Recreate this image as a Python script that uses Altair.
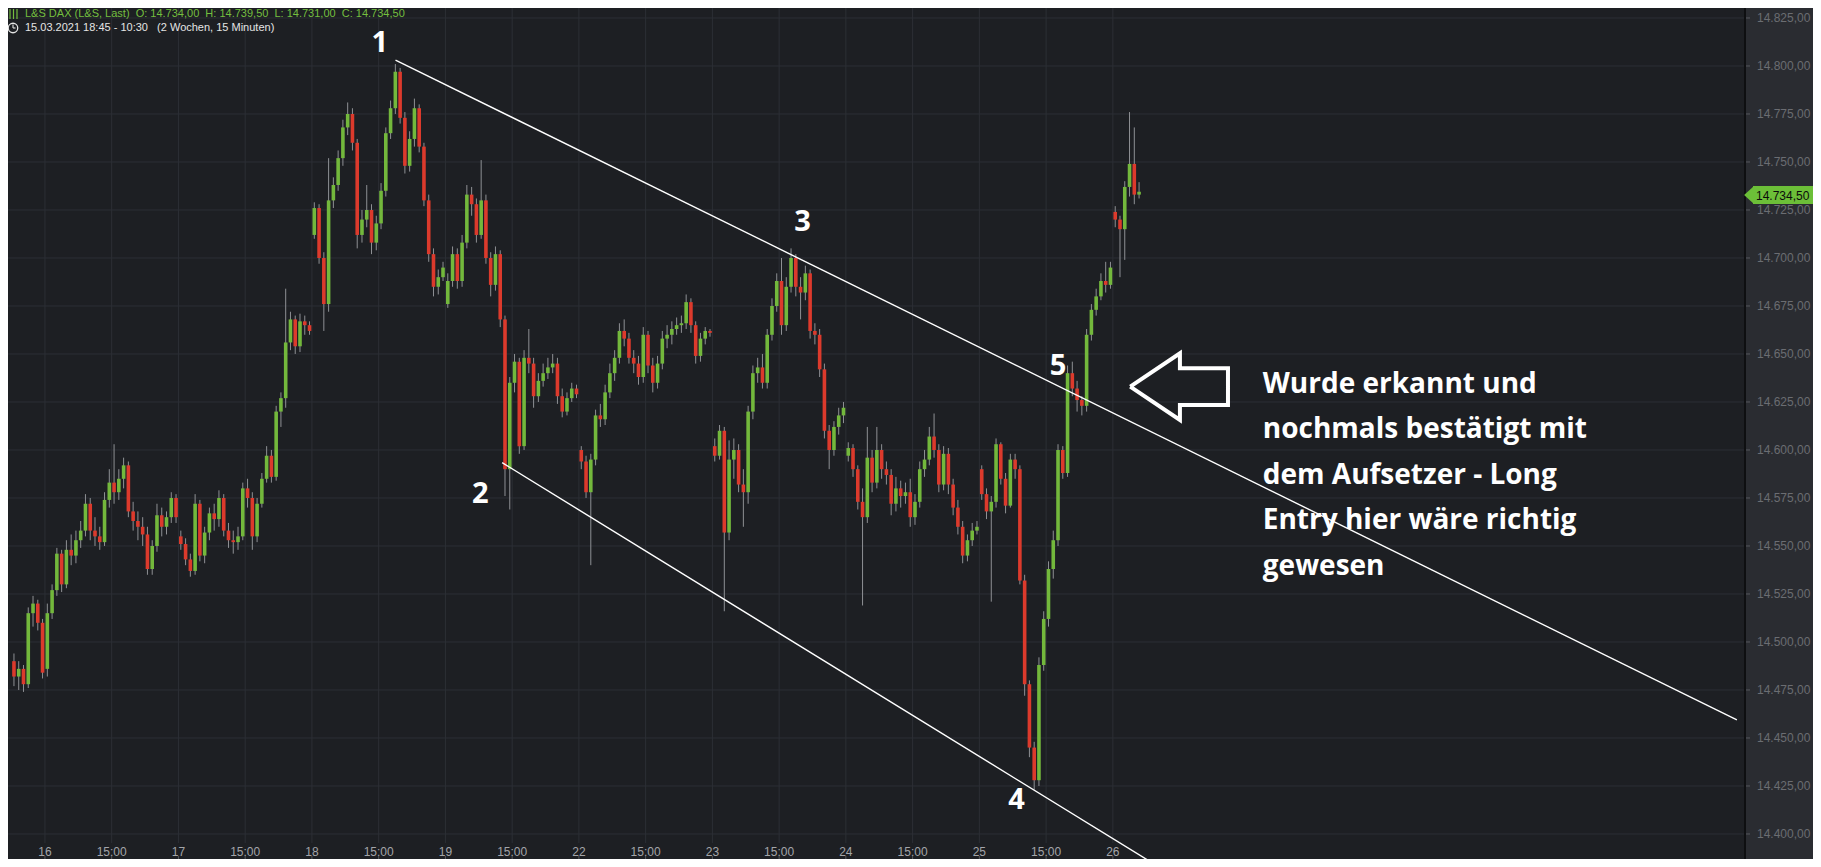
import altair as alt
import pandas as pd

# ---------------- candle data: half-hour OHLC bars, one set of lists per trading day -------------
OPEN_15 = 14490
CLOSE_15 = [14482, 14486, 14478, 14515, 14520, 14510, 14484]
HIGH_15 = [14494, 14490, 14488, 14518, 14524, 14522, 14512]
LOW_15 = [14477, 14475, 14474, 14476, 14508, 14506, 14481]

OPEN_16 = 14486
CLOSE_16 = [14515, 14527, 14546, 14530, 14548, 14545, 14553, 14558, 14572, 14558, 14555, 14552, 14574, 14583,
            14578, 14585, 14592, 14568, 14563, 14560, 14556, 14538, 14550, 14566, 14560, 14565, 14575, 14565]
HIGH_16 = [14520, 14530, 14549, 14548, 14553, 14556, 14558, 14563, 14577, 14575, 14565, 14560, 14578, 14590,
           14603, 14590, 14596, 14594, 14573, 14568, 14565, 14560, 14553, 14572, 14570, 14568, 14578, 14577]
LOW_16 = [14482, 14512, 14524, 14526, 14528, 14540, 14541, 14549, 14555, 14553, 14550, 14548, 14550, 14570,
          14572, 14574, 14580, 14565, 14558, 14553, 14550, 14535, 14535, 14547, 14555, 14556, 14562, 14562]

OPEN_17 = 14555
CLOSE_17 = [14551, 14543, 14537, 14572, 14545, 14557, 14567, 14564, 14575, 14558, 14553, 14552, 14555, 14580,
            14575, 14555, 14572, 14585, 14597, 14586, 14620, 14627, 14656, 14668, 14654, 14667, 14665, 14662]
HIGH_17 = [14558, 14554, 14546, 14577, 14574, 14560, 14570, 14572, 14579, 14577, 14562, 14558, 14560, 14583,
           14585, 14578, 14575, 14588, 14602, 14600, 14623, 14630, 14684, 14672, 14670, 14671, 14670, 14667]
LOW_17 = [14548, 14540, 14534, 14535, 14542, 14541, 14553, 14558, 14560, 14555, 14549, 14546, 14548, 14553,
          14570, 14548, 14552, 14570, 14583, 14583, 14584, 14612, 14622, 14652, 14650, 14651, 14660, 14660]

OPEN_18 = 14712
CLOSE_18 = [14726, 14700, 14676, 14730, 14738, 14752, 14768, 14775, 14760, 14712, 14720, 14725, 14708, 14718,
            14735, 14765, 14778, 14797, 14773, 14748, 14762, 14778, 14758, 14730, 14702, 14685, 14690, 14695]
HIGH_18 = [14729, 14728, 14703, 14752, 14742, 14756, 14772, 14781, 14778, 14762, 14725, 14738, 14728, 14722,
           14739, 14768, 14782, 14801, 14799, 14776, 14766, 14783, 14780, 14760, 14733, 14705, 14694, 14698]
LOW_18 = [14710, 14697, 14662, 14672, 14726, 14735, 14748, 14764, 14756, 14705, 14708, 14716, 14702, 14704,
          14715, 14732, 14762, 14775, 14770, 14744, 14745, 14758, 14755, 14727, 14698, 14680, 14681, 14688]

OPEN_19 = 14676
CLOSE_19 = [14688, 14702, 14688, 14708, 14733, 14728, 14712, 14730, 14700, 14686, 14702, 14668, 14590, 14635,
            14646, 14602, 14648, 14645, 14628, 14636, 14640, 14643, 14645, 14628, 14620, 14627, 14632, 14629]
HIGH_19 = [14692, 14706, 14705, 14712, 14738, 14737, 14731, 14751, 14733, 14703, 14706, 14704, 14670, 14638,
           14650, 14648, 14652, 14663, 14648, 14640, 14645, 14648, 14650, 14648, 14632, 14630, 14635, 14634]
LOW_19 = [14674, 14685, 14684, 14685, 14705, 14722, 14708, 14710, 14697, 14680, 14683, 14664, 14576, 14569,
          14630, 14598, 14600, 14640, 14622, 14625, 14633, 14637, 14640, 14624, 14617, 14618, 14625, 14627]

OPEN_22 = 14600
CLOSE_22 = [14594, 14578, 14595, 14618, 14616, 14630, 14640, 14648, 14662, 14658, 14648, 14645, 14638, 14660,
            14644, 14635, 14645, 14658, 14660, 14663, 14665, 14666, 14677, 14665, 14649, 14658, 14662, 14661]
HIGH_22 = [14602, 14597, 14598, 14621, 14624, 14634, 14645, 14652, 14666, 14668, 14661, 14652, 14649, 14664,
           14662, 14648, 14649, 14662, 14665, 14667, 14669, 14670, 14681, 14679, 14667, 14661, 14664, 14663]
LOW_22 = [14590, 14575, 14540, 14592, 14612, 14613, 14627, 14636, 14645, 14654, 14645, 14640, 14634, 14635,
          14640, 14630, 14632, 14642, 14653, 14655, 14660, 14661, 14663, 14661, 14645, 14646, 14655, 14659]

OPEN_23 = 14602
CLOSE_23 = [14597, 14610, 14557, 14595, 14600, 14582, 14578, 14620, 14640, 14643, 14635, 14660, 14675, 14688,
            14665, 14685, 14700, 14685, 14682, 14692, 14662, 14660, 14642, 14610, 14600, 14612, 14618, 14622]
HIGH_23 = [14606, 14613, 14612, 14605, 14606, 14603, 14590, 14623, 14644, 14648, 14650, 14663, 14679, 14692,
           14700, 14690, 14705, 14702, 14690, 14696, 14694, 14666, 14663, 14645, 14613, 14615, 14622, 14625]
LOW_23 = [14594, 14595, 14516, 14553, 14585, 14578, 14560, 14572, 14616, 14635, 14632, 14632, 14657, 14672,
          14660, 14662, 14682, 14680, 14668, 14678, 14658, 14655, 14638, 14606, 14590, 14597, 14608, 14614]

OPEN_24 = 14597
CLOSE_24 = [14601, 14590, 14573, 14565, 14596, 14583, 14600, 14590, 14587, 14572, 14580, 14576, 14578, 14565,
            14573, 14590, 14595, 14607, 14600, 14582, 14598, 14582, 14570, 14560, 14545, 14553, 14558, 14560]
HIGH_24 = [14604, 14603, 14592, 14580, 14612, 14600, 14612, 14603, 14594, 14590, 14586, 14584, 14583, 14585,
           14577, 14594, 14600, 14612, 14619, 14603, 14602, 14601, 14585, 14574, 14563, 14556, 14562, 14563]
LOW_24 = [14594, 14586, 14569, 14519, 14562, 14578, 14580, 14585, 14582, 14566, 14568, 14570, 14572, 14560,
          14561, 14570, 14586, 14592, 14596, 14578, 14579, 14577, 14566, 14556, 14541, 14542, 14550, 14556]

OPEN_25 = 14590
CLOSE_25 = [14577, 14568, 14573, 14603, 14585, 14571, 14595, 14590, 14532, 14478, 14445, 14428, 14488, 14512,
            14538, 14553, 14600, 14588, 14640, 14632, 14626, 14623, 14660, 14673, 14680, 14688, 14686, 14695]
HIGH_25 = [14592, 14580, 14576, 14606, 14604, 14588, 14598, 14598, 14592, 14535, 14480, 14448, 14492, 14516,
           14542, 14558, 14603, 14602, 14644, 14646, 14636, 14628, 14663, 14676, 14684, 14692, 14698, 14698]
LOW_25 = [14574, 14564, 14521, 14570, 14582, 14567, 14570, 14585, 14530, 14472, 14440, 14423, 14425, 14485,
          14508, 14533, 14550, 14585, 14586, 14628, 14620, 14618, 14620, 14657, 14670, 14678, 14682, 14684]

OPEN_26 = 14724
CLOSE_26 = [14720, 14715, 14737, 14749, 14733, 14734.5]
HIGH_26 = [14727, 14722, 14740, 14776, 14768, 14739.5]
LOW_26 = [14716, 14690, 14699, 14732, 14728, 14731]

DAYS = [
    (OPEN_15, CLOSE_15, HIGH_15, LOW_15),
    (OPEN_16, CLOSE_16, HIGH_16, LOW_16),
    (OPEN_17, CLOSE_17, HIGH_17, LOW_17),
    (OPEN_18, CLOSE_18, HIGH_18, LOW_18),
    (OPEN_19, CLOSE_19, HIGH_19, LOW_19),
    (OPEN_22, CLOSE_22, HIGH_22, LOW_22),
    (OPEN_23, CLOSE_23, HIGH_23, LOW_23),
    (OPEN_24, CLOSE_24, HIGH_24, LOW_24),
    (OPEN_25, CLOSE_25, HIGH_25, LOW_25),
    (OPEN_26, CLOSE_26, HIGH_26, LOW_26),
]

# ---------------- axis ticks ----------------
Y_TICKS = [14400, 14425, 14450, 14475, 14500, 14525, 14550, 14575, 14600, 14625, 14650,
           14675, 14700, 14725, 14750, 14775, 14800, 14825]
X_TICK_POS = [7, 21, 35, 49, 63, 77, 91, 105, 119, 133, 147, 161, 175, 189, 203, 217, 231]
X_TICK_LABELS = ["16", "15:00", "17", "15:00", "18", "15:00", "19", "15:00", "22", "15:00",
                 "23", "15:00", "24", "15:00", "25", "15:00", "26"]

# ---------------- drawings (bar index, price) ----------------
TREND1_T = [80.53, 361.9]
TREND1_V = [14803.1, 14459.4]
TREND2_T = [102.9, 240.55]
TREND2_V = [14593.4, 14383.0]

ARROW_T = [234.65, 245.07, 245.07, 255.15, 255.15, 245.07, 245.07, 234.65]
ARROW_V = [14632.96, 14650.36, 14642.54, 14642.54, 14623.43, 14623.43, 14615.62, 14632.96]

POINT_LABELS = ["1", "2", "3", "4", "5"]
POINT_T = [77.26, 98.32, 165.9, 210.8, 219.5]
POINT_V = [14812.0, 14577.1, 14718.7, 14417.7, 14643.7]

NOTE_LINES = ["Wurde erkannt und", "nochmals bestätigt mit", "dem Aufsetzer - Long",
              "Entry hier wäre richtig", "gewesen"]
NOTE_T = 262.45
NOTE_V = [14633.9, 14610.2, 14586.5, 14562.8, 14539.1]

HEADER_1 = "L&S DAX (L&S, Last)\u00a0\u00a0O: 14.734,00\u00a0\u00a0H: 14.739,50\u00a0\u00a0L: 14.731,00\u00a0\u00a0C: 14.734,50"
HEADER_2 = "15.03.2021 18:45 - 10:30\u00a0\u00a0\u00a0(2 Wochen, 15 Minuten)"
LAST_PRICE = "14.734,50"

# ---------------- build tables ----------------
rows = []
i = 0
for first_open, closes, highs, lows in DAYS:
    prev = first_open
    for c, h, l in zip(closes, highs, lows):
        rows.append({"t": i + 0.5, "o": prev, "c": c, "h": h, "l": l,
                     "dir": "up" if c >= prev else "down"})
        prev = c
        i += 1
candles = pd.DataFrame(rows)

trend = pd.DataFrame({
    "t": TREND1_T + TREND2_T,
    "v": TREND1_V + TREND2_V,
    "line": ["a", "a", "b", "b"],
})
arrow = pd.DataFrame({"t": ARROW_T, "v": ARROW_V, "k": list(range(len(ARROW_T)))})
points = pd.DataFrame({"t": POINT_T, "v": POINT_V, "s": POINT_LABELS})
notes = pd.DataFrame({"t": [NOTE_T] * len(NOTE_LINES), "v": NOTE_V, "s": NOTE_LINES})
ylabels = pd.DataFrame({"v": Y_TICKS,
                        "s": [f"{v // 1000}.{v % 1000:03d},00" for v in Y_TICKS]})
xlabels = pd.DataFrame({"t": X_TICK_POS, "s": X_TICK_LABELS})

# ---------------- styling ----------------
BG = "#1d1f23"
PANEL = "#2a2c31"
GRID = "#2c2f35"
GREEN = "#73b83c"
RED = "#dc3a2c"
WICK = "#8e9094"
TAG = "#6cbf38"

PLOT_W, PLOT_H = 1737, 835
XS = alt.Scale(domain=[0.3, 362.55], nice=False, zero=False)
YS = alt.Scale(domain=[14395.3, 14830.2], nice=False, zero=False)


def X(field):
    return alt.X(field, scale=XS, axis=None)


def Y(field):
    return alt.Y(field, scale=YS, axis=None)


ONE = pd.DataFrame({"k": [0]})

hgrid = alt.Chart(pd.DataFrame({"v": Y_TICKS})).mark_rule(color=GRID, strokeWidth=1).encode(
    y=Y("v:Q"), x=alt.value(0), x2=alt.value(PLOT_W))
vgrid = alt.Chart(pd.DataFrame({"t": X_TICK_POS})).mark_rule(color=GRID, strokeWidth=1).encode(
    x=X("t:Q"), y=alt.value(0), y2=alt.value(PLOT_H))

wicks = alt.Chart(candles).mark_rule(color=WICK, strokeWidth=1).encode(
    x=X("t:Q"), y=Y("l:Q"), y2="h:Q")
bodies = alt.Chart(candles).mark_bar(size=3.6).encode(
    x=X("t:Q"), y=Y("o:Q"), y2="c:Q",
    color=alt.Color("dir:N", scale=alt.Scale(domain=["up", "down"], range=[GREEN, RED]), legend=None))

lines = alt.Chart(trend).mark_line(color="#ffffff", strokeWidth=1.4).encode(
    x=X("t:Q"), y=Y("v:Q"), detail="line:N")

arrow_mark = alt.Chart(arrow).mark_line(color="#ffffff", strokeWidth=4, strokeJoin="miter").encode(
    x=X("t:Q"), y=Y("v:Q"), order="k:Q")

point_text = alt.Chart(points).mark_text(font="Open Sans", fontSize=29, fontWeight="bold",
                                         color="#ffffff", align="center", baseline="middle").encode(
    x=X("t:Q"), y=Y("v:Q"), text="s:N")

note_text = alt.Chart(notes).mark_text(font="Open Sans", fontSize=28, fontWeight="bold",
                                       color="#ffffff", align="left", baseline="middle").encode(
    x=X("t:Q"), y=Y("v:Q"), text="s:N")

panel = alt.Chart(ONE).mark_rect(color=PANEL).encode(
    x=alt.value(PLOT_W), x2=alt.value(PLOT_W + 80), y=alt.value(0), y2=alt.value(PLOT_H + 30))
separator = alt.Chart(ONE).mark_rule(color="#0e0f11", strokeWidth=2).encode(
    x=alt.value(PLOT_W), y=alt.value(0), y2=alt.value(PLOT_H + 30))

# y axis (right) drawn as marks
ytick_marks = alt.Chart(ylabels).mark_rule(color="#55585d", strokeWidth=1).encode(
    y=Y("v:Q"), x=alt.value(PLOT_W + 1), x2=alt.value(PLOT_W + 5))
ytick_text = alt.Chart(ylabels).mark_text(color="#6b6d72", fontSize=12, font="Liberation Sans",
                                          align="left", baseline="middle").encode(
    y=Y("v:Q"), x=alt.value(PLOT_W + 12), text="s:N")

# x axis (bottom) drawn as marks
xtick_text = alt.Chart(xlabels).mark_text(color="#a3a5a9", fontSize=12, font="Liberation Sans",
                                          align="center", baseline="middle").encode(
    x=X("t:Q"), y=alt.value(PLOT_H + 9), text="s:N")
xtick_marks = alt.Chart(xlabels).mark_rule(color="#55585d", strokeWidth=1).encode(
    x=X("t:Q"), y=alt.value(PLOT_H + 13), y2=alt.value(PLOT_H + 16))

tag_rect = alt.Chart(ONE).mark_rect(color=TAG).encode(
    x=alt.value(1745), x2=alt.value(1805), y=alt.value(178), y2=alt.value(196))
tag_tip = alt.Chart(ONE).mark_point(shape="M 0 -1 L -1.1 0 L 0 1 Z", filled=True, color=TAG,
                                    size=324, opacity=1).encode(x=alt.value(1746), y=alt.value(187))
tag_text = alt.Chart(ONE).mark_text(text=LAST_PRICE, color="#0b0b0b", fontSize=12,
                                    font="Liberation Sans", align="left", baseline="middle").encode(
    x=alt.value(1748), y=alt.value(187.5))

head1 = alt.Chart(ONE).mark_text(text=HEADER_1, color="#74be3f", fontSize=11, font="Liberation Sans",
                                 align="left", baseline="middle").encode(x=alt.value(17), y=alt.value(6))
head2 = alt.Chart(ONE).mark_text(text=HEADER_2, color="#e4e4e4", fontSize=11, font="Liberation Sans",
                                 align="left", baseline="middle").encode(x=alt.value(17), y=alt.value(20))
icon_b1 = alt.Chart(ONE).mark_rule(color="#74be3f", strokeWidth=1.2).encode(
    x=alt.value(2), y=alt.value(1), y2=alt.value(11))
icon_b2 = alt.Chart(ONE).mark_rule(color="#74be3f", strokeWidth=1.2).encode(
    x=alt.value(5.5), y=alt.value(1), y2=alt.value(11))
icon_b3 = alt.Chart(ONE).mark_rule(color="#74be3f", strokeWidth=1.2).encode(
    x=alt.value(9), y=alt.value(1), y2=alt.value(11))
clock = alt.Chart(ONE).mark_point(shape="circle", filled=False, color="#e4e4e4", size=90,
                                  strokeWidth=1.3, opacity=1).encode(x=alt.value(5), y=alt.value(20))
clock_h1 = alt.Chart(ONE).mark_rule(color="#e4e4e4", strokeWidth=1.1).encode(
    x=alt.value(5), y=alt.value(16.5), y2=alt.value(20))
clock_h2 = alt.Chart(ONE).mark_rule(color="#e4e4e4", strokeWidth=1.1).encode(
    x=alt.value(5), x2=alt.value(7.5), y=alt.value(20))

chart = alt.layer(
    hgrid, vgrid, wicks, bodies, lines, arrow_mark, point_text, note_text,
    panel, separator, ytick_marks, ytick_text, xtick_text, xtick_marks,
    tag_rect, tag_tip, tag_text,
    head1, head2, icon_b1, icon_b2, icon_b3, clock, clock_h1, clock_h2,
).properties(
    width=PLOT_W, height=PLOT_H,
    padding={"left": 0, "top": 0, "right": 68, "bottom": 16},
    autosize=alt.AutoSizeParams(type="none"),
    background=BG,
).configure_view(strokeWidth=0)

chart.save("out.html", embed_options={"renderer": "svg", "actions": False})
